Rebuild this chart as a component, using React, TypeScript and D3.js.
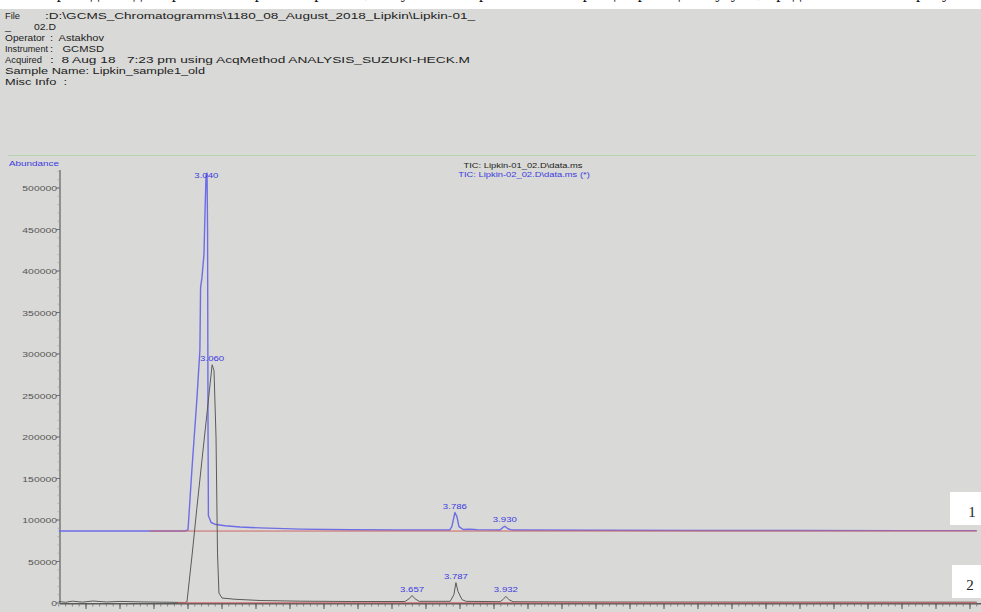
import React from "react";
import * as d3 from "d3";

const W = 981;
const H = 612;
const SX = 1.3; // horizontal stretch of the scanned screenshot text

// ---- data ----
// header pieces: [text, left, width] per line
const headerLines: [string, number, number][][] = [
  [["File", 5, 15], [":D:\\GCMS_Chromatogramms\\1180_08_August_2018_Lipkin\\Lipkin-01_", 45, 430]],
  [["_", 5, 6], ["02.D", 34, 22]],
  [["Operator", 5, 40], [":  Astakhov", 50, 54]],
  [["Instrument", 5, 43], [":   GCMSD", 50, 54]],
  [["Acquired", 5, 37], [":  8 Aug 18   7:23 pm using AcqMethod ANALYSIS_SUZUKI-HECK.M", 50, 420]],
  [["Sample Name: Lipkin_sample1_old", 5, 200]],
  [["Misc Info  :", 5, 62]],
];

const yTicks = [0, 50000, 100000, 150000, 200000, 250000, 300000, 350000, 400000, 450000, 500000];
const xTickValues = [2.7, 2.8, 2.9, 3.0, 3.1, 3.2, 3.3, 3.4, 3.5, 3.6, 3.7, 3.8, 3.9, 4.0, 4.1, 4.2, 4.3, 4.4, 4.5, 4.6, 4.7, 4.8, 4.9, 5.0, 5.1, 5.2, 5.3];
const xTickLabels = ["2.70", "2.80", "2.90", "3.00", "3.10", "3.20", "3.30", "3.40", "3.50", "3.60", "3.70", "3.80", "3.90", "4.00", "4.10", "4.20", "4.30", "4.40", "4.50", "4.60", "4.70", "4.80", "4.90", "5.00", "5.10", "5.20", "5.30"];

// Sample 2 (blue, offset trace "(*)")
const blueTime = [2.62, 2.75, 2.88, 2.99, 3.0, 3.012, 3.026, 3.035, 3.037, 3.041, 3.047, 3.05, 3.053, 3.056, 3.0575, 3.059, 3.06, 3.068, 3.082, 3.109, 3.153, 3.212, 3.33, 3.48, 3.62, 3.77, 3.776, 3.785, 3.791, 3.797, 3.809, 3.829, 3.85, 3.918, 3.926, 3.932, 3.941, 3.953, 4.2, 4.5, 4.8, 5.1, 5.32];
const blueAbund = [86700, 86800, 86700, 86800, 88000, 163900, 244600, 304800, 380000, 392000, 420000, 470000, 515000, 518000, 450000, 200000, 105000, 97000, 94500, 93000, 91500, 90500, 89000, 88200, 87900, 88000, 92000, 109000, 104000, 92000, 88500, 88800, 88200, 88000, 91000, 92500, 89500, 87900, 87600, 87400, 87300, 87200, 87200];

// Sample 1 (black)
const blackTime = [2.62, 2.64, 2.66, 2.69, 2.72, 2.76, 2.8, 2.85, 2.9, 2.95, 2.99, 2.997, 3.012, 3.026, 3.041, 3.056, 3.065, 3.071, 3.0765, 3.0824, 3.0868, 3.091, 3.1, 3.138, 3.212, 3.33, 3.48, 3.638, 3.65, 3.659, 3.668, 3.68, 3.771, 3.782, 3.788, 3.794, 3.806, 3.818, 3.918, 3.926, 3.935, 3.944, 3.956, 4.2, 4.6, 5.0, 5.32];
const blackAbund = [1800, 900, 2200, 1000, 2400, 1200, 1900, 1400, 1100, 900, 600, 1500, 57800, 114000, 172000, 229000, 264000, 287000, 280000, 200000, 60000, 12000, 6000, 4500, 3000, 2200, 1800, 1800, 5000, 9000, 5000, 2000, 2000, 10000, 24500, 14000, 4000, 2000, 1600, 4000, 8000, 4000, 1500, 1200, 1100, 1000, 1000];

// integration baselines (red)
const redUpperTime = [2.888, 5.32];
const redUpperAbund = [86700, 86700];
const redLowerTime = [2.97, 5.32];
const redLowerAbund = [300, 300];

// peak labels
const peakLabels = ["3.040", "3.060", "3.786", "3.930", "3.657", "3.787", "3.932"];
const peakTime = [3.054, 3.071, 3.785, 3.932, 3.659, 3.788, 3.935];
const peakAbund = [518000, 287000, 109000, 92500, 9000, 24500, 8000];

const legendLines = ["TIC: Lipkin-01_02.D\\data.ms", "TIC: Lipkin-02_02.D\\data.ms (*)"];
const topText = "ниже приведены для сравнения хроматограммы, полученные при анализе образцов реакции Сузуки, представленных на рисунке";

// ---- scales ----
const xScale = d3.scaleLinear().domain([2.7, 5.3]).range([86, 970]);
const yScale = d3.scaleLinear().domain([0, 500000]).range([603, 188]);

const SANS = "'Liberation Sans', Arial, sans-serif";
const SERIF = "'Liberation Serif', 'Times New Roman', serif";
const BLUE_TXT = "#3b3be0";

function ST(props: any) {
  const { x, y, size, anchor = "start", fill = "#222", children, weight } = props;
  return (
    <text
      transform={`translate(${x},${y}) scale(${SX},1)`}
      fontSize={size}
      textAnchor={anchor}
      fill={fill}
      fontFamily={SANS}
      fontWeight={weight}
    >
      {children}
    </text>
  );
}

function zip(a: number[], b: number[]): [number, number][] {
  return a.map((t, i) => [t, b[i]]);
}

export default function App() {
  const line = d3
    .line<[number, number]>()
    .x((d) => xScale(d[0]))
    .y((d) => yScale(d[1]));

  const minorX = d3.range(2.62, 5.33, 0.02);
  const minorY = d3.range(0, 520001, 10000);

  return (
    <div style={{ position: "absolute", left: 0, top: 0, width: W, height: H, overflow: "hidden" }}>
      <svg width={W} height={H} style={{ display: "block" }}>
        <rect x={0} y={0} width={W} height={H} fill="#d9d9d7" />
        <rect x={0} y={0} width={W} height={9} fill="#ffffff" />
        <text x={4} y={-2} fontSize={17} fontFamily={SERIF} fill="#111" textLength={972} lengthAdjust="spacing">
          {topText}
        </text>

        {/* header */}
        {headerLines.map((l, i) => {
          const y = 19 + i * 11;
          return (
            <g key={i}>
              {l.map((p, j) => (
                <text
                  key={j}
                  x={p[1]}
                  y={y}
                  fontSize={9.5}
                  fontFamily={SANS}
                  fill="#222"
                  textLength={p[2]}
                  lengthAdjust="spacingAndGlyphs"
                  style={{ whiteSpace: "pre" }}
                >
                  {p[0]}
                </text>
              ))}
            </g>
          );
        })}

        {/* frame top line */}
        <line x1={8} x2={976} y1={155.5} y2={155.5} stroke="#b5d3ad" strokeWidth={1} />

        {/* legend */}
        <ST x={523} y={167.5} size={7.2} anchor="middle" fill="#222">{legendLines[0]}</ST>
        <ST x={524} y={177} size={7.2} anchor="middle" fill={BLUE_TXT}>{legendLines[1]}</ST>

        {/* Abundance */}
        <ST x={9} y={166} size={7.6} fill={BLUE_TXT}>Abundance</ST>

        {/* y axis */}
        <line x1={60} x2={60} y1={170} y2={604} stroke="#707070" strokeWidth={1.4} />
        {minorY.map((v) => (
          <line key={"my" + v} x1={57.5} x2={60} y1={yScale(v)} y2={yScale(v)} stroke="#9a9a9a" strokeWidth={0.6} />
        ))}
        {yTicks.map((v) => (
          <g key={"y" + v}>
            <line x1={56} x2={60} y1={yScale(v)} y2={yScale(v)} stroke="#707070" strokeWidth={1} />
            <ST x={57} y={yScale(v) + 3} size={8} anchor="end" fill="#555">{String(v)}</ST>
          </g>
        ))}

        {/* x axis */}
        <line x1={60} x2={981} y1={603.8} y2={603.8} stroke="#5a5a5a" strokeWidth={1.5} />
        {minorX.map((t, i) => (
          <line key={"mx" + i} x1={xScale(t)} x2={xScale(t)} y1={604} y2={606.5} stroke="#666" strokeWidth={0.7} />
        ))}
        {xTickValues.map((t, i) => (
          <g key={"x" + i}>
            <line x1={xScale(t)} x2={xScale(t)} y1={604} y2={609} stroke="#555" strokeWidth={1} />
            <ST x={xScale(t)} y={618.5} size={8.5} anchor="middle" fill="#444">{xTickLabels[i]}</ST>
          </g>
        ))}
        <ST x={8} y={619} size={8} fill={BLUE_TXT}>Time--&gt;</ST>

        {/* traces */}
        <path d={line(zip(blueTime, blueAbund)) || ""} fill="none" stroke="#6d6de6" strokeWidth={1.4} strokeLinejoin="round" />
        <path d={line(zip(redUpperTime, redUpperAbund)) || ""} fill="none" stroke="#cf6868" strokeWidth={1} />
        <path d={line(zip(blackTime, blackAbund)) || ""} fill="none" stroke="#5a5a5a" strokeWidth={1} strokeLinejoin="round" />
        <path d={line(zip(redLowerTime, redLowerAbund)) || ""} fill="none" stroke="#cf6868" strokeWidth={1} />

        {/* peak labels */}
        {peakLabels.map((s, i) => (
          <ST
            key={"p" + i}
            x={xScale(peakTime[i])}
            y={Math.max(yScale(peakAbund[i]) - 4, 178)}
            size={7.4}
            anchor="middle"
            fill={BLUE_TXT}
          >
            {s}
          </ST>
        ))}

        {/* sample number boxes */}
        <rect x={950} y={492} width={31} height={33} fill="#ffffff" />
        <text x={972} y={517} fontSize={15} textAnchor="middle" fontFamily={SERIF} fill="#222">1</text>
        <rect x={952} y={565} width={29} height={33} fill="#ffffff" />
        <text x={970} y={590} fontSize={15} textAnchor="middle" fontFamily={SERIF} fill="#222">2</text>
      </svg>
    </div>
  );
}
